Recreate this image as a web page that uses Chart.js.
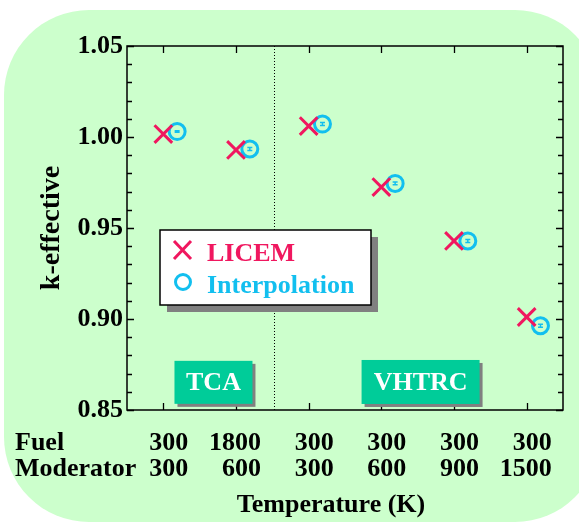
<!DOCTYPE html>
<html>
<head>
<meta charset="utf-8">
<script src="https://cdn.jsdelivr.net/npm/chart.js@4"></script>
<style>
  html, body { margin: 0; padding: 0; background: #fff; overflow: hidden; }
  #bg { position: absolute; left: 4px; top: 10px; width: 596px; height: 512px;
        background: #ccffcc; border-radius: 85px; }
  #wrap { position: absolute; left: 0; top: 0; width: 579px; height: 523px; }
</style>
</head>
<body>
<div id="bg"></div>
<div id="wrap"><canvas id="kChart" width="579" height="523"></canvas></div>
<script>
// Data
const fuelTemps = ['300', '1800', '300', '300', '300', '300'];
const modTemps = ['300', '600', '300', '600', '900', '1500'];
const licemK = [1.0016, 0.9929, 1.0060, 0.9725, 0.9429, 0.9011];
const interpK = [1.0030, 0.9934, 1.0071, 0.9745, 0.9429, 0.8963];
const interpErr = [0.0004, 0.0008, 0.0008, 0.0008, 0.0008, 0.0008];
const yTicks = [0.85, 0.90, 0.95, 1.00, 1.05];

const SERIF = '"Liberation Serif", "DejaVu Serif", serif';
const RED = '#f0175f';
const CYAN = '#12bfef';
const GREEN = '#00cc99';
const interpShift = 0.19; // circles drawn a bit right of each X

const frame = {
    id: 'frame',
    beforeDatasetsDraw(chart) {
        const { ctx, chartArea: a, scales: { x, y } } = chart;
        ctx.save();
        ctx.strokeStyle = '#000';
        ctx.lineWidth = 1.5;
        ctx.strokeRect(a.left, a.top, a.right - a.left, a.bottom - a.top);
        // y ticks, minor every 0.01, inward on both sides
        ctx.lineWidth = 1.3;
        for (let i = 0; i <= 20; i++) {
            const py = Math.round(y.getPixelForValue(0.85 + i * 0.01)) + 0.5;
            const len = i % 5 === 0 ? 7 : 5;
            ctx.beginPath();
            ctx.moveTo(a.left, py); ctx.lineTo(a.left + len, py);
            ctx.moveTo(a.right, py); ctx.lineTo(a.right - len, py);
            ctx.stroke();
        }
        // x ticks at each case, top and bottom
        fuelTemps.forEach((_, i) => {
            const px = Math.round(x.getPixelForValue(i)) + 0.5;
            ctx.beginPath();
            ctx.moveTo(px, a.bottom); ctx.lineTo(px, a.bottom - 7);
            ctx.moveTo(px, a.top); ctx.lineTo(px, a.top + 7);
            ctx.stroke();
        });
        // dotted divider between TCA and VHTRC
        const dx = Math.round(x.getPixelForValue(1.52)) + 0.5;
        ctx.lineWidth = 1;
        ctx.setLineDash([1, 2]);
        ctx.beginPath();
        ctx.moveTo(dx, a.top); ctx.lineTo(dx, a.bottom);
        ctx.stroke();
        ctx.setLineDash([]);

        // case labels (TCA / VHTRC)
        const tag = (text, cx, cy, w, h) => {
            const l = x.getPixelForValue(cx) - w / 2, t = y.getPixelForValue(cy) - h / 2;
            ctx.fillStyle = '#808080';
            ctx.fillRect(l + 3, t + 3, w, h);
            ctx.fillStyle = GREEN;
            ctx.fillRect(l, t, w, h);
            ctx.fillStyle = '#fff';
            ctx.font = 'bold 26px ' + SERIF;
            ctx.textAlign = 'center';
            ctx.textBaseline = 'middle';
            ctx.fillText(text, l + w / 2, t + h / 2 + 1);
        };
        tag('TCA', 0.69, 0.8652, 78, 43);
        tag('VHTRC', 3.54, 0.8654, 118, 44);
        ctx.restore();
    },
    afterDatasetsDraw(chart) {
        const { ctx, chartArea: a, scales: { x, y } } = chart;
        ctx.save();
        // error bars on the interpolated values
        ctx.strokeStyle = CYAN;
        ctx.lineWidth = 1.5;
        interpK.forEach((v, i) => {
            const px = x.getPixelForValue(i + interpShift);
            const y1 = y.getPixelForValue(v - interpErr[i]);
            const y2 = y.getPixelForValue(v + interpErr[i]);
            ctx.beginPath();
            ctx.moveTo(px, y1); ctx.lineTo(px, y2);
            ctx.moveTo(px - 2.5, y1); ctx.lineTo(px + 2.5, y1);
            ctx.moveTo(px - 2.5, y2); ctx.lineTo(px + 2.5, y2);
            ctx.stroke();
        });

        // legend box with drop shadow
        const lx = 160, ly = 230, lw = 211, lh = 75;
        ctx.fillStyle = '#808080';
        ctx.fillRect(lx + 7, ly + 7, lw, lh);
        ctx.fillStyle = '#fff';
        ctx.fillRect(lx, ly, lw, lh);
        ctx.strokeStyle = '#000';
        ctx.lineWidth = 1.5;
        ctx.strokeRect(lx, ly, lw, lh);
        ctx.lineWidth = 3;
        ctx.strokeStyle = RED;
        ctx.beginPath();
        ctx.moveTo(174, 241); ctx.lineTo(191, 259);
        ctx.moveTo(191, 241); ctx.lineTo(174, 259);
        ctx.stroke();
        ctx.strokeStyle = CYAN;
        ctx.beginPath();
        ctx.arc(183, 282, 7.5, 0, Math.PI * 2);
        ctx.stroke();
        ctx.font = 'bold 26px ' + SERIF;
        ctx.textAlign = 'left';
        ctx.textBaseline = 'alphabetic';
        ctx.fillStyle = RED;
        ctx.fillText('LICEM', 207, 261);
        ctx.fillStyle = CYAN;
        ctx.fillText('Interpolation', 207, 293);

        // Fuel / Moderator temperature rows
        ctx.fillStyle = '#000';
        ctx.fillText('Fuel', 15, 450);
        ctx.fillText('Moderator', 15, 476);
        ctx.textAlign = 'right';
        fuelTemps.forEach((t, i) => {
            const px = x.getPixelForValue(i) + 25;
            ctx.fillText(t, px, 450);
            ctx.fillText(modTemps[i], px, 476);
        });

        // x axis title, sits a little left of the plot centre
        ctx.textAlign = 'center';
        ctx.fillText('Temperature (K)', 331, 512);
        ctx.restore();
    }
};

const ctx = document.getElementById('kChart').getContext('2d');

new Chart(ctx, {
    type: 'scatter',
    data: {
        datasets: [{
            label: 'LICEM',
            data: licemK.map((v, i) => ({ x: i, y: v })),
            pointStyle: 'crossRot',
            pointRadius: 12.5,
            borderColor: RED,
            borderWidth: 3,
            backgroundColor: RED
        }, {
            label: 'Interpolation',
            data: interpK.map((v, i) => ({ x: i + interpShift, y: v })),
            pointStyle: 'circle',
            pointRadius: 8,
            borderColor: CYAN,
            borderWidth: 3,
            backgroundColor: 'rgba(0,0,0,0)'
        }]
    },
    options: {
        responsive: false,
        animation: false,
        layout: { padding: { left: 0, right: 16, top: 46, bottom: 0 } },
        plugins: { legend: { display: false }, tooltip: { enabled: false } },
        scales: {
            x: {
                type: 'linear',
                min: -0.5,
                max: 5.5,
                grid: { display: false },
                border: { display: false },
                ticks: { display: false },
                afterFit: s => { s.height = 113; }
            },
            y: {
                type: 'linear',
                min: 0.85,
                max: 1.05,
                grid: { display: false, drawTicks: false },
                border: { display: false },
                afterBuildTicks: s => { s.ticks = yTicks.map(v => ({ value: v })); },
                ticks: {
                    padding: 4,
                    color: '#000',
                    font: { family: SERIF, size: 26, weight: 'bold' },
                    callback: v => v.toFixed(2)
                },
                title: {
                    display: true,
                    text: 'k-effective',
                    color: '#000',
                    font: { family: SERIF, size: 28, weight: 'bold' },
                    padding: { top: 35, bottom: 0 }
                },
                afterFit: s => { s.width = 127; }
            }
        }
    },
    plugins: [frame]
});
</script>
</body>
</html>
